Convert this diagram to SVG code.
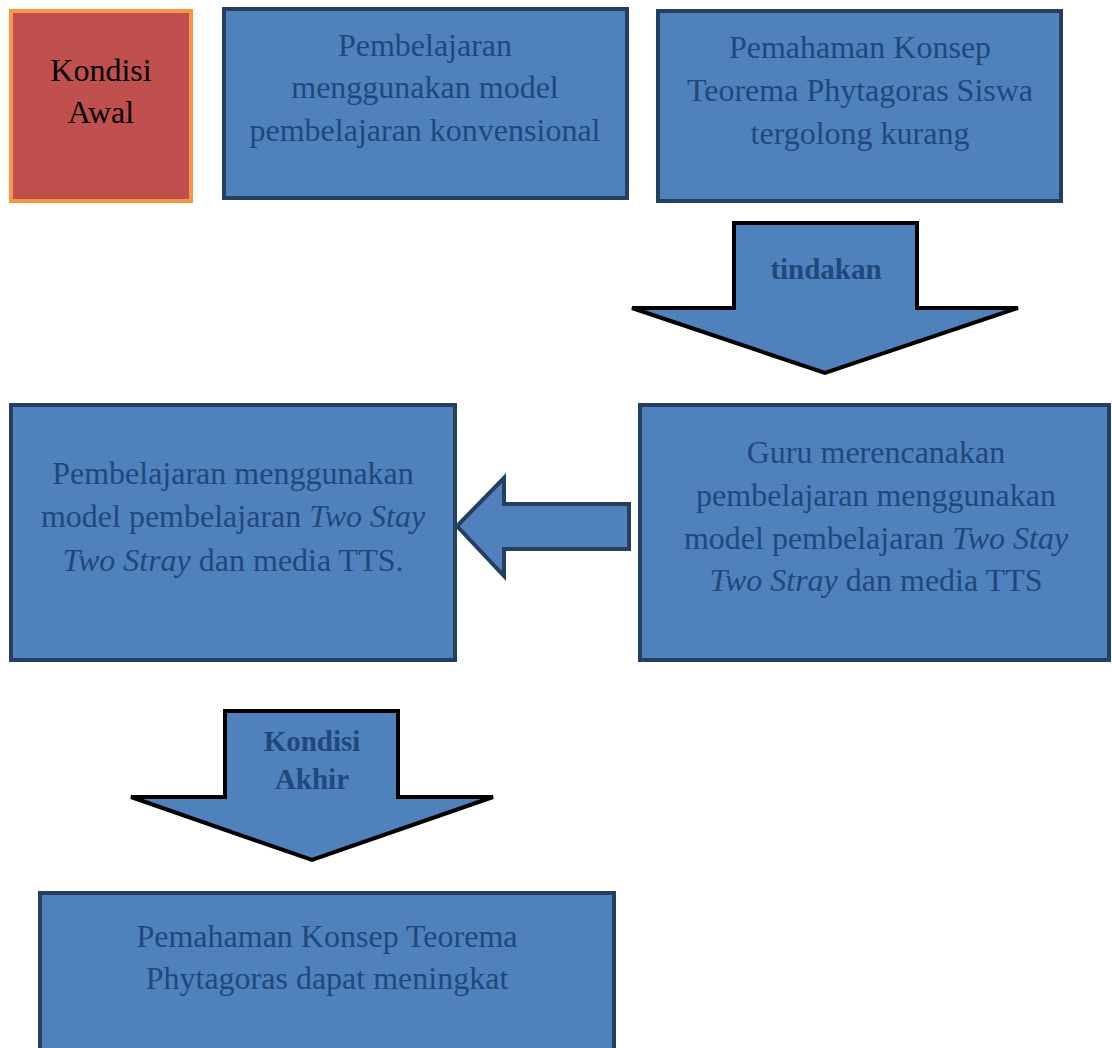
<svg xmlns="http://www.w3.org/2000/svg" width="1112" height="1048" viewBox="0 0 1112 1048">
<style>
.box{fill:#4F81BD;stroke:#243F60;stroke-width:4}
.t{font-family:"Liberation Serif","Times New Roman",serif;font-size:32px;fill:#1F487C;text-anchor:middle}
.b{font-weight:bold;font-size:29px}
.blk{stroke:#000;stroke-width:4;fill:#4F81BD;stroke-linejoin:miter}
</style>
<rect width="1112" height="1048" fill="#fff"/>
<g id="kondisi-awal">
<rect x="11" y="11" width="180" height="190" fill="#C0504D" stroke="#F79646" stroke-width="4"/>
<text class="t" x="101" y="81" style="fill:#000">Kondisi</text>
<text class="t" x="101" y="123" style="fill:#000">Awal</text>
</g>
<g id="konvensional">
<rect class="box" x="224" y="9" width="403" height="189"/>
<text class="t" x="425" y="56">Pembelajaran</text>
<text class="t" x="425" y="98">menggunakan model</text>
<text class="t" x="425" y="141">pembelajaran konvensional</text>
</g>
<g id="pemahaman-kurang">
<rect class="box" x="658" y="11" width="403" height="190"/>
<text class="t" x="860" y="58">Pemahaman Konsep</text>
<text class="t" x="860" y="101">Teorema Phytagoras Siswa</text>
<text class="t" x="860" y="144">tergolong kurang</text>
</g>
<g id="connectors">
<g id="arrow-tindakan">
<polygon class="blk" points="734,223 917,223 917,308 1018,308 825,373 632,308 734,308"/>
<text class="t b" x="826" y="279">tindakan</text>
</g>
<g id="arrow-left">
<polygon points="629,504 629,549 504,549 504,576 457,526 504,478 504,504" fill="#4F81BD" stroke="#243F60" stroke-width="4"/>
</g>
<g id="arrow-akhir">
<polygon class="blk" points="225,711 398,711 398,797 493,797 312,860 131,797 225,797"/>
<text class="t b" x="312" y="751">Kondisi</text>
<text class="t b" x="312" y="789">Akhir</text>
</g>
</g>
<g id="two-stay-left">
<rect class="box" x="11" y="405" width="444" height="255"/>
<text class="t" x="233" y="484">Pembelajaran menggunakan</text>
<text class="t" x="233" y="527">model pembelajaran <tspan font-style="italic">Two Stay</tspan></text>
<text class="t" x="233" y="571"><tspan font-style="italic">Two Stray</tspan> dan media TTS.</text>
</g>
<g id="guru-merencanakan">
<rect class="box" x="640" y="405" width="469" height="255"/>
<text class="t" x="876" y="463">Guru merencanakan</text>
<text class="t" x="876" y="506">pembelajaran menggunakan</text>
<text class="t" x="876" y="549">model pembelajaran <tspan font-style="italic">Two Stay</tspan></text>
<text class="t" x="876" y="591"><tspan font-style="italic">Two Stray</tspan> dan media TTS</text>
</g>
<g id="pemahaman-meningkat">
<rect class="box" x="40" y="893" width="574" height="170"/>
<text class="t" x="327" y="947">Pemahaman Konsep Teorema</text>
<text class="t" x="327" y="989">Phytagoras dapat meningkat</text>
</g>
</svg>
